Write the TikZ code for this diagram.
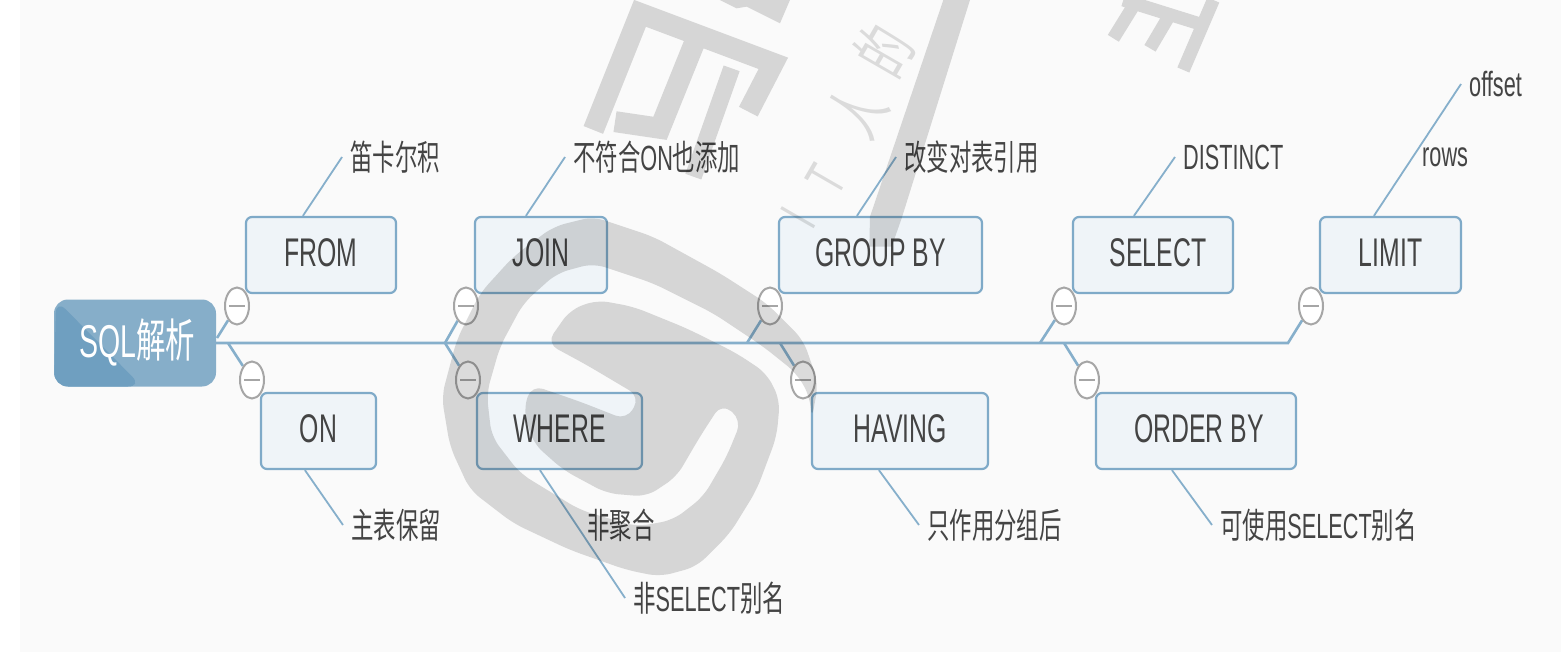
\documentclass[tikz,border=0pt]{standalone}
\usepackage{fontspec}
\usetikzlibrary{shapes.geometric}
\setmainfont[FakeStretch=0.62]{Liberation Sans}
\newfontfamily\cjkf[FakeStretch=0.64]{Noto Sans CJK SC}
\newcommand\zh[1]{{\cjkf #1}}
\definecolor{pagebg}{HTML}{FAFAFA}
\definecolor{linec}{HTML}{86AFCB}
\definecolor{boxb}{HTML}{7FAAC8}
\definecolor{boxf}{HTML}{EFF4F8}
\definecolor{rootl}{HTML}{86AEC9}
\definecolor{rootd}{HTML}{6F9FC0}
\definecolor{txt}{HTML}{444444}
\definecolor{ctrl}{HTML}{A6A6A6}
\pgfdeclarelayer{conn}
\pgfsetlayers{conn,main}
\tikzset{
  topic/.style={draw=boxb,line width=2.2pt,fill=boxf,rounded corners=6pt,inner sep=0pt,minimum height=76pt,text=txt,font=\fontsize{40}{42}\selectfont},
  rootnode/.style={fill=rootl,rounded corners=14pt,minimum width=162pt,minimum height=87pt,inner sep=0pt,text=white,font=\fontsize{46}{48}\selectfont,
    path picture={\fill[rootd] ([xshift=2pt]path picture bounding box.north west) -- ([xshift=88pt]path picture bounding box.south west) -- (path picture bounding box.south west) -- cycle;}},
  leaf/.style={anchor=west,inner sep=8pt,text=txt,font=\fontsize{35}{37}\selectfont},
  collapse/.style={ellipse,draw=ctrl,line width=2pt,fill=white,minimum width=24pt,minimum height=37pt,inner sep=0pt,
    path picture={\draw[ctrl,line width=2.2pt] ([xshift=-8pt]path picture bounding box.center) -- ([xshift=8pt]path picture bounding box.center);}},
  trunk/.style={linec,line width=2.6pt},
  twig/.style={linec,line width=1.8pt},
  wmfill/.style={fill=black,fill opacity=.14},
  wmline/.style={draw=black,draw opacity=.14,line cap=butt,line join=miter},
  wmtext/.style={rotate=60,text=black,text opacity=.12,inner sep=0pt},
}
\begin{document}
\begin{tikzpicture}[x=1pt,y=-1pt]
\useasboundingbox (0,0) rectangle (1561,655);
\begin{pgfonlayer}{conn}
\fill[white] (0,0) rectangle (1561,655);
\fill[pagebg] (20,0) rectangle (1561,652);
\end{pgfonlayer}

% branch points
\coordinate (t0) at (216,343);
\coordinate (tEnd) at (1288,343);
\coordinate (b1u) at (217,338);
\coordinate (b1d) at (228,343);
\coordinate (b2) at (445,343);
\coordinate (b3u) at (747,343);
\coordinate (b3d) at (780,343);
\coordinate (b4u) at (1040,343);
\coordinate (b4d) at (1064,343);

% collapse controls
\node[collapse] (c1) at (237,306) {};
\node[collapse] (c2) at (252,380) {};
\node[collapse] (c3) at (466,306) {};
\node[collapse] (c4) at (468,380) {};
\node[collapse] (c5) at (770,306) {};
\node[collapse] (c6) at (803,380) {};
\node[collapse] (c7) at (1064,306) {};
\node[collapse] (c8) at (1087,380) {};
\node[collapse] (c9) at (1311,306) {};

% topics
\node[topic,minimum width=150pt] (from) at (321,255) {\raisebox{4pt}{FROM}};
\node[topic,minimum width=132pt] (join) at (541,255) {\raisebox{4pt}{JOIN}};
\node[topic,minimum width=203pt] (group) at (880.5,255) {\raisebox{4pt}{GROUP BY}};
\node[topic,minimum width=160pt] (select) at (1153,255) {\hspace{10pt}\raisebox{4pt}{SELECT}};
\node[topic,minimum width=141pt] (limit) at (1390.5,255) {\raisebox{4pt}{LIMIT}};
\node[topic,minimum width=115pt] (on) at (318.5,431) {\raisebox{4pt}{ON}};
\node[topic,minimum width=165pt] (where) at (559.5,431) {\raisebox{4pt}{WHERE}};
\node[topic,minimum width=176pt] (having) at (900,431) {\raisebox{4pt}{HAVING}};
\node[topic,minimum width=200pt] (order) at (1196,431) {\hspace{6pt}\raisebox{4pt}{ORDER BY}};
\node[rootnode] (root) at (135,343) {\hspace{4pt}\raisebox{10pt}{SQL\zh{解析}}};

% leaves
\node[leaf] (l1) at (342,157) {\zh{笛卡尔积}};
\node[leaf] (l2) at (343,525) {\zh{主表保留}};
\node[leaf] (l3) at (565,157) {\zh{不符合}ON\zh{也添加}};
\node[leaf] (l4) at (896,157) {\zh{改变对表引用}};
\node[leaf] (l5) at (1175,157) {DISTINCT};
\node[leaf] (l6) at (1461,84) {offset};
\node[leaf] (l7) at (1414,157) {rows};
\node[leaf] (l8) at (579,525) {\zh{非聚合}};
\node[leaf] (l9) at (625,598) {\zh{非}SELECT\zh{别名}};
\node[leaf] (l10) at (919,525) {\zh{只作用分组后}};
\node[leaf] (l11) at (1212,525) {\zh{可使用}SELECT\zh{别名}};

% connectors
\begin{pgfonlayer}{conn}
\draw[trunk] (t0) -- (tEnd) -- (c9);
\draw[trunk] (b1u) -- (c1);
\draw[trunk] (b1d) -- (c2);
\draw[trunk] (b2) -- (c3);
\draw[trunk] (b2) -- (c4);
\draw[trunk] (b3u) -- (c5);
\draw[trunk] (b3d) -- (c6);
\draw[trunk] (b4u) -- (c7);
\draw[trunk] (b4d) -- (c8);
\draw[twig] ([xshift=58pt]from.north west) -- (l1.west);
\draw[twig] ([xshift=45pt]on.south west) -- (l2.west);
\draw[twig] ([xshift=52pt]join.north west) -- (l3.west);
\draw[twig] ([xshift=79pt]group.north west) -- (l4.west);
\draw[twig] ([xshift=62pt]select.north west) -- (l5.west);
\draw[twig] ([xshift=55pt]limit.north west) -- (l6.west);
\draw[twig] ([xshift=64pt]where.south west) -- (l9.west);
\draw[twig] ([xshift=68pt]having.south west) -- (l10.west);
\draw[twig] ([xshift=77pt]order.south west) -- (l11.west);
\end{pgfonlayer}

% watermark: logo
\begin{scope}[xshift=420pt,yshift=-180pt,x=.3333pt,y=-.3333pt]
\fill[wmfill,rounded corners=12pt]
 (1175,720)--(1195,610)--(1150,480)--(1040,370)--(900,280)--(700,170)--(520,110)--(400,140)--(280,230)--(180,340)--(110,480)--(65,650)--(90,800)--(150,930)--(280,1030)--(450,1110)--(620,1170)--(720,1190)--(830,1160)--(930,1060)--(1010,930)--(1070,770)--(1080,660)--(1040,580)--(950,520)--(800,445)--(640,380)--(530,360)--(450,390)--(380,490)--(500,555)--(660,650)--(620,720)--(480,665)--(335,615)--(310,690)--(340,790)--(430,870)--(560,940)--(680,950)--(770,890)--(840,770)--(905,670)--(965,720)--(920,830)--(850,950)--(760,1020)--(650,1040)--(480,990)--(300,880)--(215,770)--(200,640)--(240,500)--(310,370)--(410,280)--(520,250)--(700,310)--(880,400)--(1030,500)--(1130,580)--(1170,650)--cycle;
\end{scope}
% watermark: upper left glyph
\begin{scope}[xshift=560pt,x=.3333pt,y=-.3333pt]
\draw[wmline,line width=21pt]
 (100,390)--(240,40)--(640,190)--(565,335)
 (415,100)--(300,385)--(165,365);
\draw[wmline,line width=17pt] (515,205)--(400,530);
\fill[wmfill] (690,0)--(660,70)--(560,20)--(530,25)--(480,0)--cycle;
\end{scope}
% watermark: long bar and right glyph
\begin{scope}[xshift=780pt,x=.3333pt,y=-.3333pt]
\fill[wmfill] (490,0)--(570,0)--(365,655)--(335,740)--(268,740)--(270,650)--cycle;
\end{scope}
\begin{scope}[xshift=1080pt,x=.3333pt,y=-.3333pt]
\draw[wmline,line width=13pt]
 (100,115)--(165,10)
 (210,145)--(275,35)
 (310,210)--(400,0)
 (130,0)--(370,75);
\end{scope}
\node[wmtext,font=\fontsize{56}{58}\selectfont] (wm1) at (798,218) {I};
\node[wmtext,font=\fontsize{56}{58}\selectfont] (wm2) at (826,180) {T};
\node[wmtext,font=\fontsize{66}{68}\selectfont] (wm3) at (857,112) {\zh{人}};
\node[wmtext,font=\fontsize{66}{68}\selectfont] (wm4) at (884,50) {\zh{的}};
\end{tikzpicture}
\end{document}
